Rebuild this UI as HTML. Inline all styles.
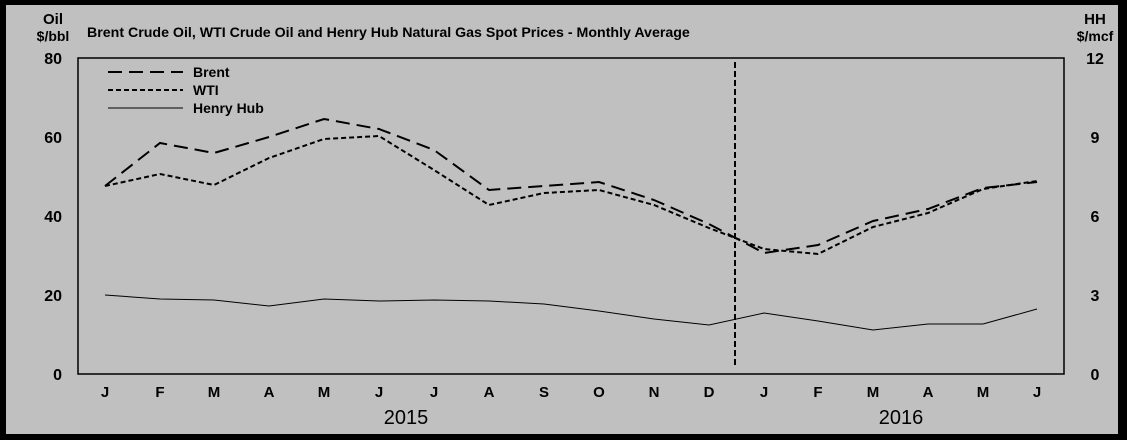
<!DOCTYPE html><html><head><style>body{margin:0;background:#000}svg{display:block}text{font-family:"Liberation Sans",sans-serif}</style></head><body>
<svg width="1127" height="440" xmlns="http://www.w3.org/2000/svg">
<rect x="0" y="0" width="1127" height="440" fill="#000"/>
<rect x="6" y="5" width="1112" height="429" fill="#c0c0c0"/>
<rect x="78" y="58" width="986" height="316" fill="none" stroke="#000" stroke-width="1.5"/>
<g font-weight="bold" font-size="15" fill="#000">
<text x="53" y="24" text-anchor="middle">Oil</text>
<text x="53" y="41" text-anchor="middle" font-size="14">$/bbl</text>
<text x="1095" y="24" text-anchor="middle">HH</text>
<text x="1095" y="41" text-anchor="middle" font-size="14">$/mcf</text>
<text x="87" y="37" font-size="14.2">Brent Crude Oil, WTI Crude Oil and Henry Hub Natural Gas Spot Prices - Monthly Average</text>
<g text-anchor="end" font-size="16"><text x="62" y="64">80</text><text x="62" y="143">60</text><text x="62" y="222">40</text><text x="62" y="301">20</text><text x="62" y="380">0</text></g>
<g text-anchor="middle" font-size="16"><text x="1095" y="64">12</text><text x="1095" y="143">9</text><text x="1095" y="222">6</text><text x="1095" y="301">3</text><text x="1095" y="380">0</text></g>
<g text-anchor="middle" font-size="15">
<text x="105" y="397">J</text><text x="160" y="397">F</text><text x="214" y="397">M</text><text x="269" y="397">A</text><text x="324" y="397">M</text><text x="379" y="397">J</text><text x="434" y="397">J</text><text x="489" y="397">A</text><text x="544" y="397">S</text><text x="599" y="397">O</text><text x="654" y="397">N</text><text x="709" y="397">D</text><text x="764" y="397">J</text><text x="818" y="397">F</text><text x="873" y="397">M</text><text x="928" y="397">A</text><text x="983" y="397">M</text><text x="1037" y="397">J</text></g>
<text x="193" y="77" font-size="14">Brent</text><text x="193" y="95" font-size="14">WTI</text><text x="193" y="113" font-size="14">Henry Hub</text>
</g>
<text x="406" y="424" text-anchor="middle" font-size="20">2015</text>
<text x="901" y="424" text-anchor="middle" font-size="20">2016</text>
<line x1="108" y1="72" x2="183" y2="72" stroke="#000" stroke-width="2" stroke-dasharray="14,7"/>
<line x1="108" y1="90" x2="183" y2="90" stroke="#000" stroke-width="2" stroke-dasharray="5,3"/>
<line x1="108" y1="108" x2="183" y2="108" stroke="#000" stroke-width="1"/>
<line x1="735" y1="62" x2="735" y2="366" stroke="#000" stroke-width="2" stroke-dasharray="6,3"/>
<polyline fill="none" stroke="#000" stroke-width="2" stroke-dasharray="14,7" points="105,186 160,143 214,153 269,137 324,119 379,129 434,150 489,190 544,186 599,182 654,200 709,224 764,253 818,245 873,221 928,209 983,188 1037,182"/>
<polyline fill="none" stroke="#000" stroke-width="2" stroke-dasharray="5,3" points="105,186 160,174 214,185 269,158 324,139 379,136 434,170 489,205 544,193 599,190 654,205 709,228 764,249 818,254 873,227 928,213 983,189 1037,181"/>
<polyline fill="none" stroke="#000" stroke-width="1" points="105,295 160,299 214,300 269,306 324,299 379,301 434,300 489,301 544,304 599,311 654,319 709,325 764,313 818,321 873,330 928,324 983,324 1037,309"/>
</svg></body></html>
